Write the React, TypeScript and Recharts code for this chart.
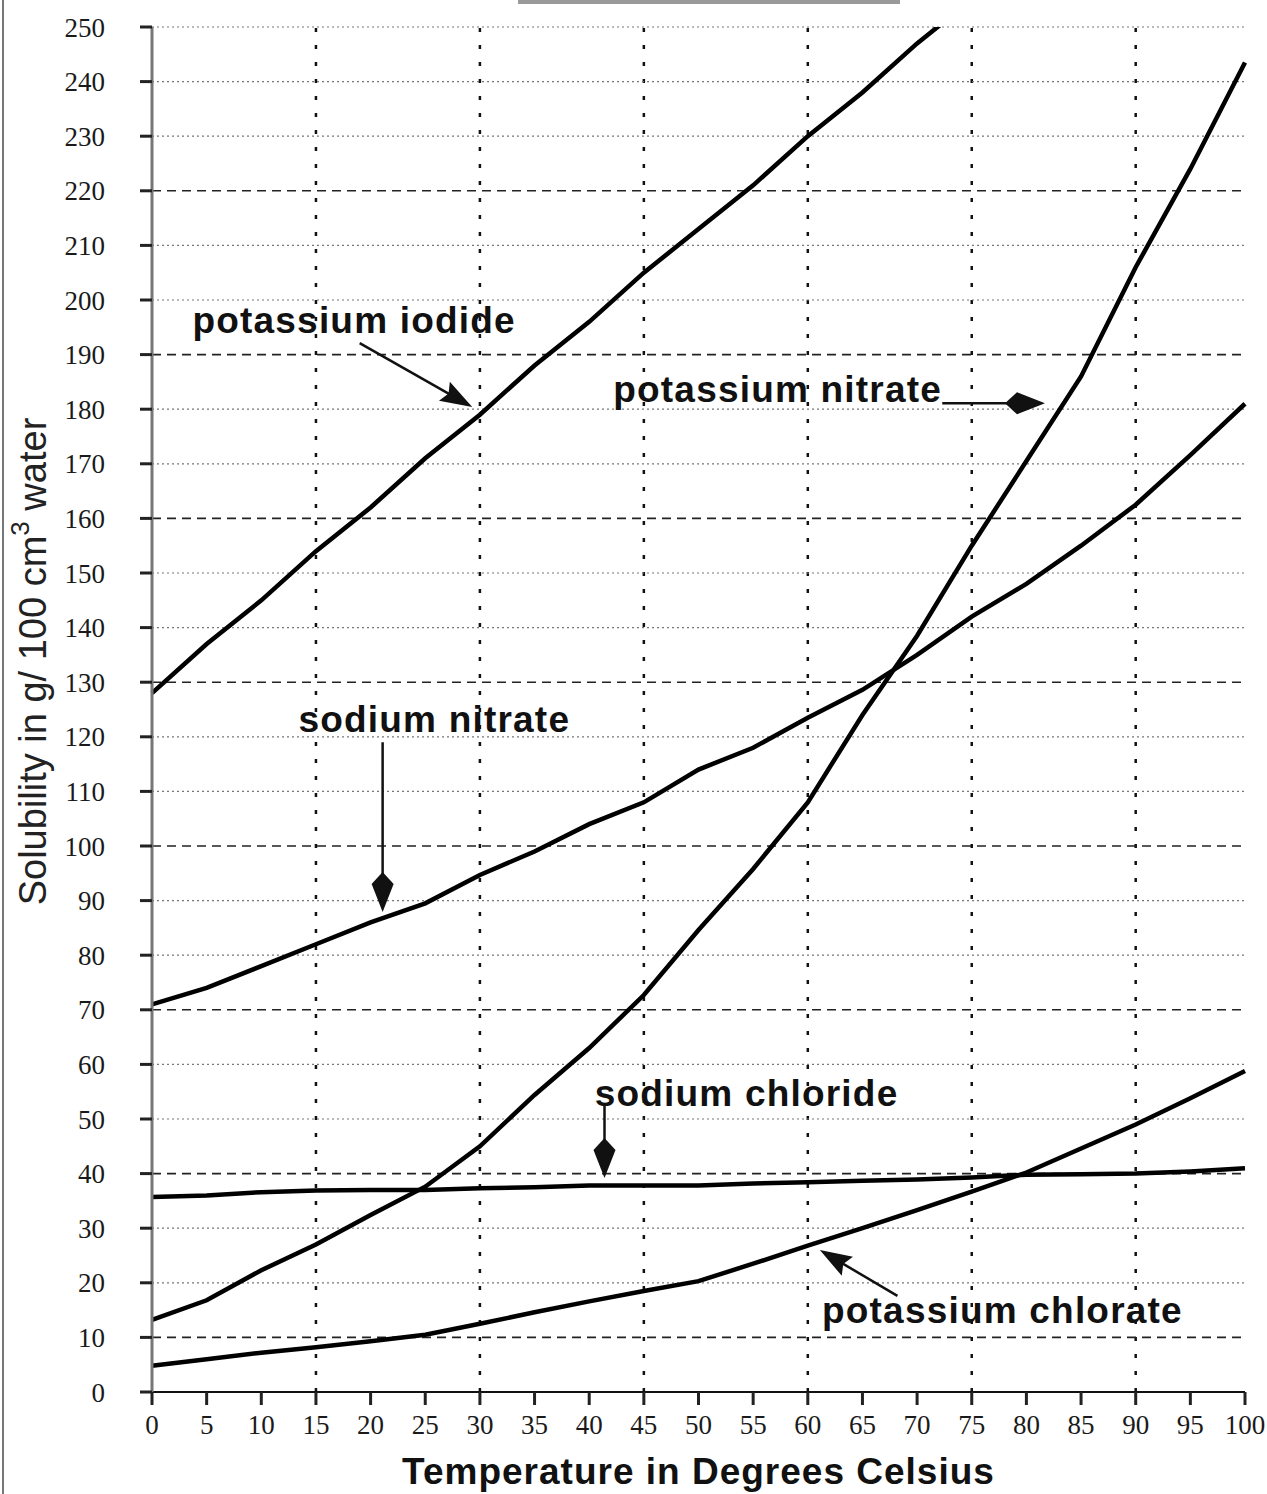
import { LineChart, Line, XAxis, YAxis, ReferenceLine, ReferenceDot, Label } from 'recharts';

// temperature in degrees C
const temps = [0, 5, 10, 15, 20, 25, 30, 35, 40, 45, 50, 55, 60, 65, 70, 75, 80, 85, 90, 95, 100];

// solubility, g per 100 cm3 water
const potassiumIodide = [128, 137, 145, 154, 162, 171, 179, 188, 196, 205, 213, 221, 230, 238, 247, 255];
const potassiumNitrate = [13.2, 16.8, 22.3, 27, 32.4, 37.6, 45, 54.4, 63, 72.7, 84.6, 95.8, 108, 124, 138.5, 155, 170.5, 186, 206, 224, 243.5];
const sodiumNitrate = [71, 74, 78, 82, 86, 89.5, 94.7, 99, 104, 108, 114, 118, 123.5, 128.6, 135, 142, 148, 155, 162.5, 171.6, 181];
const sodiumChloride = [35.7, 36, 36.6, 36.9, 37, 37, 37.3, 37.5, 37.8, 37.8, 37.8, 38.2, 38.4, 38.7, 38.9, 39.3, 39.8, 39.9, 40, 40.4, 41];
const potassiumChlorate = [4.8, 6, 7.2, 8.2, 9.3, 10.5, 12.5, 14.6, 16.6, 18.5, 20.3, 23.5, 26.8, 30, 33.3, 36.7, 40.2, 44.6, 49, 53.8, 58.8];

const yTicks = [0, 10, 20, 30, 40, 50, 60, 70, 80, 90, 100, 110, 120, 130, 140, 150, 160, 170, 180, 190, 200, 210, 220, 230, 240, 250];
const majorRows = [10, 40, 70, 100, 130, 160, 190, 220];
const minorRows = [20, 30, 50, 60, 80, 90, 110, 120, 140, 150, 170, 180, 200, 210, 230, 240, 250];
const columns = [15, 30, 45, 60, 75, 90];

type Note = {
  text: string;
  x: number;
  y: number;
  from: [number, number];
  to: [number, number];
  kite: boolean;
};

const notes: Note[] = [
  { text: 'potassium iodide', x: 3.7, y: 194, from: [19.0, 192.1], to: [29.3, 180.4], kite: false },
  { text: 'potassium nitrate', x: 42.2, y: 181.3, from: [72.3, 181.1], to: [81.7, 181.1], kite: true },
  { text: 'sodium nitrate', x: 13.4, y: 120.9, from: [21.1, 119], to: [21.1, 87.9], kite: true },
  { text: 'sodium chloride', x: 40.5, y: 52.4, from: [41.4, 52.6], to: [41.4, 39.2], kite: true },
  { text: 'potassium chlorate', x: 61.3, y: 12.6, from: [68.2, 17.6], to: [61.1, 26], kite: false },
];

const data = temps.map((t, i) => ({
  t,
  ki: potassiumIodide[i] ?? null,
  kno3: potassiumNitrate[i],
  nano3: sodiumNitrate[i],
  nacl: sodiumChloride[i],
  kclo3: potassiumChlorate[i],
}));

const arrow = (kite: boolean) => (p: any) => {
  const { x1, y1, x2, y2 } = p;
  const a = Math.atan2(y2 - y1, x2 - x1);
  const L = kite ? 40 : 32;
  const W = 11;
  const side = kite ? L * 0.7 : L;
  const rear = kite ? L : L * 0.85;
  const ux = Math.cos(a);
  const uy = Math.sin(a);
  const pt = (d: number, w: number) => `${x2 - ux * d - uy * w},${y2 - uy * d + ux * w}`;
  return (
    <g>
      <line x1={x1} y1={y1} x2={x2 - ux * 6} y2={y2 - uy * 6} stroke='#111' strokeWidth={2.5} />
      <polygon points={[pt(0, 0), pt(side, W), pt(rear, 0), pt(side, -W)].join(' ')} fill='#111' />
    </g>
  );
};

const noteText = (text: string) => (p: any) => (
  <text
    x={p.cx}
    y={p.cy}
    fontFamily='"Liberation Sans", Arial, sans-serif'
    fontWeight='bold'
    fontSize={37}
    letterSpacing={1.2}
    fill='#111'
  >
    {text}
  </text>
);

const tickFont = { fontFamily: '"Liberation Serif", serif', fontSize: 27, fill: '#1a1a1a' };

const YTitle = (props: any) => {
  const { viewBox } = props;
  const cx = viewBox.x + 33;
  const cy = viewBox.y + viewBox.height / 2 - 48;
  return (
    <text
      x={cx}
      y={cy}
      transform={`rotate(-90 ${cx} ${cy})`}
      textAnchor='middle'
      dominantBaseline='central'
      fontFamily='"Liberation Sans", Arial, sans-serif'
      fontSize={38}
      fill='#222'
    >
      Solubility in g/ 100 cm
      <tspan fontSize={26} dy={-13}>3</tspan>
      <tspan dy={13}> water</tspan>
    </text>
  );
};

const App = () => {
  return (
    <div style={{ position: 'absolute', left: 0, top: 0, width: 1267, height: 1494, background: '#fff' }}>
      <div style={{ position: 'absolute', left: 2, top: 0, width: 2, height: 1494, background: '#777' }} />
      <div style={{ position: 'absolute', left: 518, top: 0, width: 382, height: 4, background: '#9a9a9a' }} />
      <LineChart width={1267} height={1494} data={data} margin={{ top: 27, right: 22, left: 0, bottom: 0 }}>
        {columns.map((c) => (
          <ReferenceLine key={'c' + c} x={c} stroke='#111' strokeWidth={2.5} strokeDasharray='4 13' />
        ))}
        {minorRows.map((r) => (
          <ReferenceLine key={'m' + r} y={r} stroke='#777' strokeWidth={1.2} strokeDasharray='2 3' />
        ))}
        {majorRows.map((r) => (
          <ReferenceLine key={'M' + r} y={r} stroke='#222' strokeWidth={1.6} strokeDasharray='9 6' />
        ))}
        <XAxis
          dataKey='t'
          type='number'
          domain={[0, 100]}
          ticks={temps}
          interval={0}
          height={102}
          tickSize={13}
          tickMargin={10}
          stroke='#111'
          strokeWidth={2}
          tickLine={{ stroke: '#222', strokeWidth: 3 }}
          tick={tickFont}
        >
          <Label
            value='Temperature in Degrees Celsius'
            position='insideBottom'
            offset={10}
            style={{
              fontFamily: '"Liberation Sans", Arial, sans-serif',
              fontWeight: 'bold',
              fontSize: 37,
              letterSpacing: 1,
              fill: '#111',
            }}
          />
        </XAxis>
        <YAxis
          type='number'
          domain={[0, 250]}
          allowDataOverflow
          ticks={yTicks}
          interval={0}
          width={152}
          tickSize={12}
          tickMargin={35}
          stroke='#777'
          strokeWidth={3}
          tickLine={{ stroke: '#222', strokeWidth: 3 }}
          tick={tickFont}
        >
          <Label content={<YTitle />} />
        </YAxis>
        <Line type='linear' dataKey='ki' stroke='#000' strokeWidth={4.5} dot={false} isAnimationActive={false} />
        <Line type='linear' dataKey='kno3' stroke='#000' strokeWidth={4.5} dot={false} isAnimationActive={false} />
        <Line type='linear' dataKey='nano3' stroke='#000' strokeWidth={4.5} dot={false} isAnimationActive={false} />
        <Line type='linear' dataKey='nacl' stroke='#000' strokeWidth={4.5} dot={false} isAnimationActive={false} />
        <Line type='linear' dataKey='kclo3' stroke='#000' strokeWidth={4.5} dot={false} isAnimationActive={false} />
        {notes.map((n) => (
          <ReferenceLine
            key={'a' + n.text}
            segment={[
              { x: n.from[0], y: n.from[1] },
              { x: n.to[0], y: n.to[1] },
            ]}
            shape={arrow(n.kite)}
          />
        ))}
        {notes.map((n) => (
          <ReferenceDot key={'t' + n.text} x={n.x} y={n.y} r={0} shape={noteText(n.text)} />
        ))}
      </LineChart>
    </div>
  );
};

export default App;
